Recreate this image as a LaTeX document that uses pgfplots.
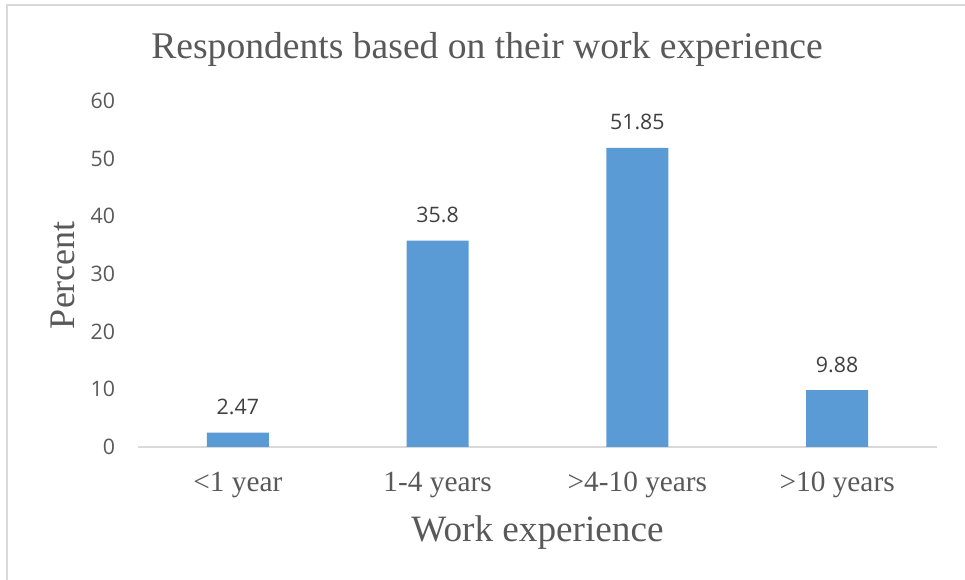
\documentclass[border=0pt]{standalone}
\usepackage{pgfplots}
\pgfplotsset{compat=1.18}
\usepackage{fontspec}
\setmainfont{Liberation Serif}
\newfontfamily\osans{Open Sans}
\definecolor{barblue}{HTML}{5B9BD5}
\definecolor{txtgray}{HTML}{595959}
\definecolor{lblgray}{HTML}{404040}
\definecolor{linegray}{HTML}{D9D9D9}
\begin{document}
\begin{tikzpicture}
\useasboundingbox (0,0) rectangle (723.75pt,435pt);
\draw[linegray, line width=1.2pt] (5.25pt,0) -- (5.25pt,431.25pt) -- (723.75pt,431.25pt);
\begin{axis}[
  at={(103.5pt,99.75pt)}, anchor=south west,
  scale only axis, width=599.25pt, height=259.5pt,
  ybar, bar width=46.5pt,
  xmin=-0.5, xmax=3.5, ymin=0, ymax=60,
  ytick={0,10,...,60},
  xtick={0,1,2,3},
  xticklabels={{<1 year},{1-4 years},{>4-10 years},{>10 years}},
  axis x line*=bottom, axis y line*=left,
  x axis line style={draw=linegray, line width=1.5pt, -},
  y axis line style={draw=none},
  major tick length=0pt,
  tick style={draw=none},
  /pgf/number format/assume math mode=true,
  yticklabel style={font=\osans\fontsize{16}{18}\selectfont, text=txtgray, anchor=east, inner sep=0pt, xshift=-17pt},
  xticklabel style={font=\fontsize{22}{24}\selectfont, text=txtgray, anchor=base, inner sep=0pt, yshift=-33.5pt},
  title={Respondents based on their work experience},
  title style={font=\fontsize{28.2}{30}\selectfont, text=txtgray, at={(axis description cs:0.4368,1.101)}, anchor=base, inner sep=0pt},
  xlabel={Work experience},
  xlabel style={font=\fontsize{27.9}{30}\selectfont, text=txtgray, at={(axis description cs:0.5,-0.272)}, anchor=base, inner sep=0pt},
  ylabel={Percent},
  ylabel style={font=\fontsize{27}{30}\selectfont, text=txtgray, at={(axis description cs:-0.0789,0.497)}, anchor=base, inner sep=0pt},
  nodes near coords,
  point meta=explicit symbolic,
  every node near coord/.append style={font=\osans\fontsize{16}{18}\selectfont, text=lblgray, anchor=base, inner sep=0pt, yshift=13.5pt},
]
\addplot[fill=barblue, draw=none] table[x=x, y=y, meta=lab] {
x y lab
0 2.47 2.47
1 35.8 35.8
2 51.85 51.85
3 9.88 9.88
};
\end{axis}
\end{tikzpicture}
\end{document}
